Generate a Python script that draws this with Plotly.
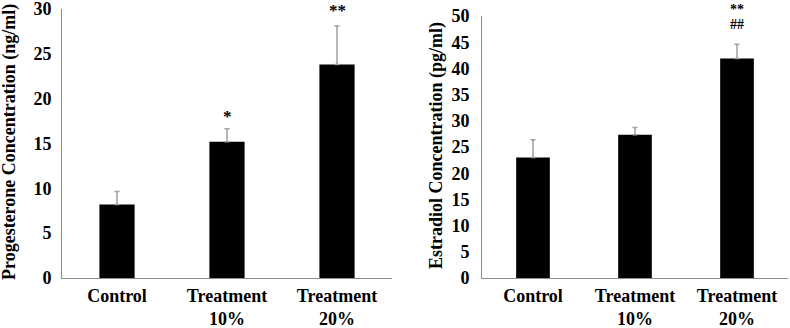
import plotly.graph_objects as go

categories = ["Control", "Treatment<br>10%", "Treatment<br>20%"]

progesterone = [8.2, 15.2, 23.8]
progesterone_err = [1.45, 1.45, 4.3]
prog_marks = ["", "*", "**"]
prog_mark_y = [0, 18.0, 29.8]

estradiol = [23.0, 27.35, 41.9]
estradiol_err = [3.4, 1.35, 2.7]
estr_marks = ["", "", "**"]
estr_mark_y = [0, 0, 51.3]
estr_marks2 = ["", "", "##"]
estr_mark2_y = [0, 0, 48.3]

font_family = "Liberation Serif"
axis_grey = "#8c8c8c"

dom1 = [50 / 328, 319 / 328]
dom2 = [50 / 328, 312 / 328]


def to_paper(v, top, dom):
    # value on the y scale -> paper coordinate (lets marks sit above the range)
    return dom[0] + v / top * (dom[1] - dom[0])


fig = go.Figure()

fig.add_trace(
    go.Bar(
        x=categories, y=progesterone, width=0.32,
        marker=dict(color="black", line=dict(width=0)),
        error_y=dict(type="data", symmetric=False, array=progesterone_err,
                     arrayminus=[0] * 3, color="#a0a0a0",
                     thickness=1.5, width=2.5),
        xaxis="x", yaxis="y",
    )
)
fig.add_trace(
    go.Bar(
        x=categories, y=estradiol, width=0.33,
        marker=dict(color="black", line=dict(width=0)),
        error_y=dict(type="data", symmetric=False, array=estradiol_err,
                     arrayminus=[0] * 3, color="#a0a0a0",
                     thickness=1.5, width=2.5),
        xaxis="x2", yaxis="y2",
    )
)

annotations = []
for cat, txt, yv in zip(categories, prog_marks, prog_mark_y):
    if txt:
        annotations.append(dict(x=cat, y=to_paper(yv, 30, dom1), xref="x", yref="paper",
                                text="<b>" + txt + "</b>", showarrow=False,
                                xanchor="center", yanchor="middle",
                                font=dict(size=17)))
for cat, txt, yv in zip(categories, estr_marks, estr_mark_y):
    if txt:
        annotations.append(dict(x=cat, y=to_paper(yv, 50, dom2), xref="x2", yref="paper",
                                text="<b>" + txt + "</b>", showarrow=False,
                                xanchor="center", yanchor="middle",
                                font=dict(size=14)))
for cat, txt, yv in zip(categories, estr_marks2, estr_mark2_y):
    if txt:
        annotations.append(dict(x=cat, y=to_paper(yv, 50, dom2), xref="x2", yref="paper",
                                text="<b>" + txt + "</b>", showarrow=False,
                                xanchor="center", yanchor="middle",
                                font=dict(size=14)))

# y-axis titles
annotations.append(dict(x=9.5 / 790, y=0.5655, xref="paper", yref="paper",
                        xanchor="center", yanchor="middle",
                        text="<b>Progesterone Concentration (ng/ml)</b>",
                        textangle=-90, showarrow=False, font=dict(size=18)))
annotations.append(dict(x=437 / 790, y=0.558, xref="paper", yref="paper",
                        xanchor="center", yanchor="middle",
                        text="<b>Estradiol Concentration (pg/ml)</b>",
                        textangle=-90, showarrow=False, font=dict(size=18)))

xcommon = dict(showline=True, linecolor=axis_grey, linewidth=1, ticks="",
               showgrid=False, tickfont=dict(size=18, family=font_family,
                                             weight="bold"),
               ticklabelstandoff=1, fixedrange=True, automargin=False,
               ticklabeloverflow="allow")
ycommon = dict(showline=True, linecolor=axis_grey, linewidth=1,
               ticks="outside", tickcolor="rgba(0,0,0,0)", automargin=False,
               ticklabeloverflow="allow", fixedrange=True,
               showgrid=False, zeroline=False, dtick=5,
               tickfont=dict(size=18, family=font_family, weight="bold"))

fig.update_layout(
    width=790, height=328,
    margin=dict(l=0, r=0, t=0, b=0),
    paper_bgcolor="white", plot_bgcolor="white",
    showlegend=False,
    font=dict(family=font_family, color="black"),
    xaxis=dict(domain=[62 / 790, 392 / 790], anchor="y", **xcommon),
    yaxis=dict(domain=dom1, range=[0, 30], anchor="x", ticklen=6, **ycommon),
    xaxis2=dict(domain=[482 / 790, 788 / 790], anchor="y2", **xcommon),
    yaxis2=dict(domain=dom2, range=[0, 50], anchor="x2", ticklen=8, **ycommon),
    annotations=annotations,
)

# drop the browser's default 8px body margin so the figure fills the window
fig.write_html("out.html", config={"displayModeBar": False},
               post_script="document.body.style.margin = '0';")
